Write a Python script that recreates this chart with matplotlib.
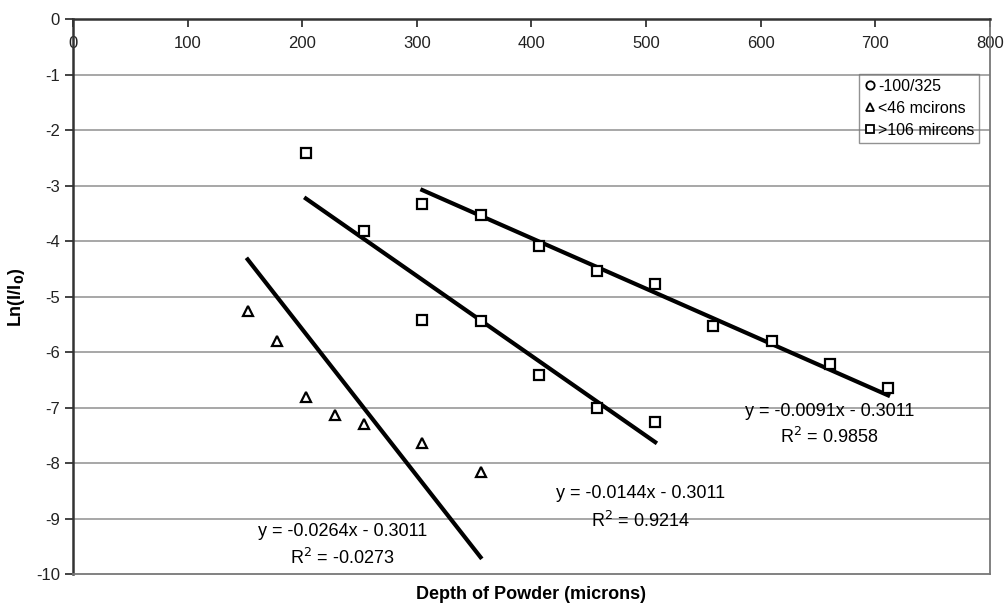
import matplotlib.pyplot as plt
import numpy as np
from matplotlib.lines import Line2D

plt.rcParams['font.family'] = ['Liberation Sans', 'DejaVu Sans']
plt.rcParams['axes.unicode_minus'] = False

# depth in microns (multiples of 25.4 = 1 mil)
x_fine = [152.4, 177.8, 203.2, 228.6, 254.0, 304.8, 355.6]
y_fine = [-5.26, -5.79, -6.80, -7.13, -7.29, -7.63, -8.15]

x_mid = [203.2, 254.0, 304.8, 355.6, 406.4, 457.2, 508.0]
y_mid = [-2.40, -3.81, -5.41, -5.44, -6.40, -7.00, -7.25]

x_coarse = [304.8, 355.6, 406.4, 457.2, 508.0, 558.8, 609.6, 660.4, 711.2]
y_coarse = [-3.33, -3.53, -4.09, -4.53, -4.77, -5.53, -5.79, -6.21, -6.64]

slopes = [-0.0264, -0.0144, -0.0091]
intercept = -0.3011
r2_values = ["-0.0273", "0.9214", "0.9858"]
legend_labels = ["-100/325", "<46 mcirons", ">106 mircons"]

fig = plt.figure(figsize=(10.07, 6.06), dpi=100)
ax = fig.add_axes([0.0725, 0.052, 0.9105, 0.916])

ax.set_xlim(0, 800)
ax.set_ylim(-10, 0)
ax.set_yticks(np.arange(-10, 1, 1))
ax.set_xticks(np.arange(0, 801, 100))

for yv in range(-9, 0):
    ax.axhline(yv, color='#a0a0a0', lw=1.3, zorder=0)

mk = dict(ls='none', mfc='white', mec='black', mew=1.6, zorder=4)
ax.plot(x_fine, y_fine, marker='^', ms=7, **mk)
ax.plot(x_mid, y_mid, marker='s', ms=7, **mk)
ax.plot(x_coarse, y_coarse, marker='s', ms=7, **mk)

# trendlines from the fitted equations
for xs, m in zip([x_fine, x_mid, x_coarse], slopes):
    xx = np.array([min(xs), max(xs)])
    ax.plot(xx, m * xx + intercept, color='black', lw=3, zorder=3)

# equation labels
ann = [(235, -9.23, -9.70), (495, -8.55, -9.03), (660, -7.07, -7.52)]
for (xt, y1, y2), m, r2 in zip(ann, slopes, r2_values):
    ax.text(xt, y1, "y = %.4fx - 0.3011" % m, ha='center', va='center', fontsize=13)
    ax.text(xt, y2, "R$^2$ = " + r2, ha='center', va='center', fontsize=13)

# axes styling
ax.xaxis.set_ticks_position('top')
ax.tick_params(axis='x', direction='in', length=6, width=1.2, labeltop=True,
               labelbottom=False, pad=-12, labelsize=12, colors='#222222')
ax.tick_params(axis='y', direction='out', length=6, width=1.2, labelsize=12,
               colors='#222222')
for lab in ax.get_xticklabels():
    lab.set_verticalalignment('top')
for s in ['left', 'top']:
    ax.spines[s].set_color('#333333')
    ax.spines[s].set_linewidth(1.8)
for s in ['right', 'bottom']:
    ax.spines[s].set_color('#777777')
    ax.spines[s].set_linewidth(1.3)

ax.set_xlabel("Depth of Powder (microns)", fontsize=13, fontweight='bold', labelpad=8)
ax.set_ylabel("Ln(I/I$_\\mathbf{0}$)", fontsize=13, fontweight='bold', labelpad=6)

handles = [Line2D([], [], marker=mkr, ls='none', mfc='white', mec='black', mew=1.3, ms=6)
           for mkr in ['o', '^', 's']]
leg = ax.legend(handles, legend_labels, loc='upper left', bbox_to_anchor=(0.857, 0.902),
                fontsize=11.5, frameon=True, fancybox=False, handletextpad=0.1,
                handlelength=0.8, borderpad=0.3, labelspacing=0.45, borderaxespad=0)
leg.get_frame().set_edgecolor('#777777')
leg.get_frame().set_facecolor('none')
leg.get_frame().set_linewidth(1.0)

fig.savefig("out.png", dpi=100)
